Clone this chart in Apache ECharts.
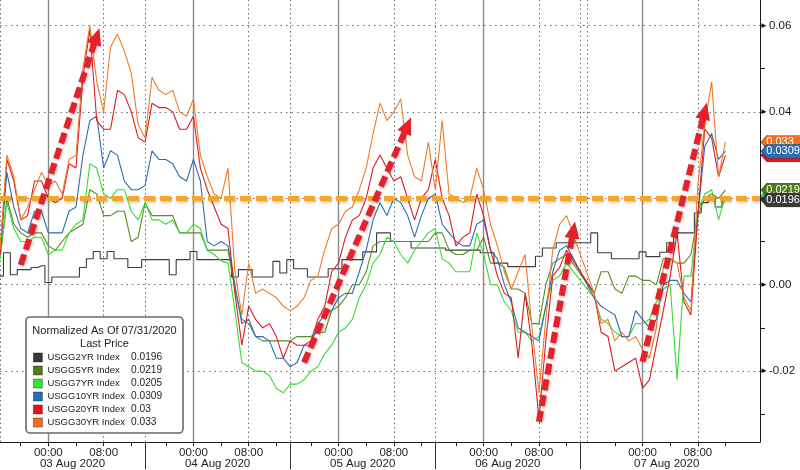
<!DOCTYPE html>
<html><head><meta charset="utf-8">
<script src="https://cdn.jsdelivr.net/npm/echarts@6/dist/echarts.min.js"></script>
<style>html,body{margin:0;padding:0;background:#fff}#c{width:800px;height:470px}</style>
</head><body><div id="c"></div>
<script>
// ---- time slots on the (gap-compressed) intraday axis ----
const dayNames = ['02 Aug 2020','03 Aug 2020','04 Aug 2020','05 Aug 2020','06 Aug 2020','07 Aug 2020'];
const dayHours = [
  [17,18,19,20,21,22,23],
  [0,1,2,3,4,5,6,7,8,9,10,11,12,13,14,18,19,20,21,22,23],
  [0,1,2,3,4,5,6,7,8,9,10,11,12,13,14,18,19,20,21,22,23],
  [0,1,2,3,4,5,6,7,8,9,10,11,12,13,14,18,19,20,21,22,23],
  [0,1,2,3,4,5,6,7,8,9,10,11,12,13,14,16,17,18,19,20,21,22,23],
  [0,1,2,3,4,5,6,7,8,9,10,11,12,13,14,15,16,17]
];
const tickHours = [0,4,8,12,20];
const labelHours = [0,8];
const dateLabelHour = 4;
const separators = ['02 Aug 2020 17:00','03 Aug 2020 14:00','04 Aug 2020 14:00','05 Aug 2020 14:00','06 Aug 2020 14:00','06 Aug 2020 16:00'];
const yTicks = [-0.03,-0.02,-0.01,0,0.01,0.02,0.03,0.04,0.05,0.06];
const yLabels = [-0.02,0,0.02,0.04,0.06];

// ---- series (yield change, in units of 0.001) ----
const names = ['USGG2YR Index','USGG5YR Index','USGG7YR Index','USGG10YR Index','USGG20YR Index','USGG30YR Index'];
const lastPrice = ['0.0196','0.0219','0.0205','0.0309','0.03','0.033'];
const usgg2 = [2,7.4,2.3,3.5,3.5,4,4.4,
  0.5,1.8,1.8,1.8,1.8,4,6,7.7,6,7.7,6,6,4,4,5.8, 5.8,5.8,5.8,2.3,5.8,5.8,
  7.7,5.8,5.8,5.8,5.8,5.8,1.8,3.5,3.5,1.8,1.8,1.8,5.4,2.7,5.8, 3.7,3.7,1.8,1.8,1.8,3.7,
  3.7,5.8,5.8,5.8,7.6,7.6,12,12,10,10,10,8.5,8.5,8.5,8.5, 8.5,8,8,8,8,8,
  7.4,7.4,5,5,4.2,4.2,4.2,4.2,6.6,8.5,8.5,9.7,9.7,9.7,9.7, 9.7,12,7.4,7.4,6,6,6,6,
  7.6,6.5,6.5,7.5,9.7,12,12,12,16.6,19,20,18,19.6];
const usgg5 = [6,20,14,12,11,12,12,
  9,8,10,12,13,14,22,21,16,16,17,17,10,11,19, 16,16,16,16,12,12,
  12,12,8,8,8,8,-1,-8,-9,-12,-13,-13,-13,-13,-13, -12,-12,-12,-11,-11,-6,
  -5,-3,0,0,3,9,10,10,10,10,10,10,10,10,12, 12,8,7,7,8,8,
  11,5,5,4,-1,-1,-2,-9,-9,0,5,6,7,null,null, null,-2,3,3,-1,-2,2,2,
  1,1,0,6,6,5,5,7,16,20,21,20,21.9];
const usgg7 = [6,19,13,10,10,11,11,
  7,8,8,12,14,15,28,27,21,20,22,22,17,15,19, 15,15,14,15,12,12,
  14,13,8,7,5.5,5,-6,-18,-19,-20,-20,-21,-24,-25,-23, -23,-22,-20,-19,-16,-14,
  -11,-10,-8,-3,0,5,7,11,10,7,5,8,10,12,13, 6,5,3,3,3,12,
  7,0,0,-4,-6,-11,-11,-13,-12,-5,1,2,5,null,null, null,-3,-8,-9,-11,-12,-12,-9,
  -9,-8,-4,-1,0,-22,2,2,17,21,22,15,20.5];
const usgg10 = [7,26,18,13,12,17,17,
  12,12,12,17,18,30,38,39,27,31,30,24,22,22,23, 31,29,29,28,25,24,
  29,24,10,9,10,9,0,-9,-8,-12,-12,-13,-17,-17,-19, -18,-14,-14,-9,-7,-6,
  -3,-2,-2,3,8,15,19,16,20,19,16,11,16,20,21, 14,12,10,9,9,14,
  15,8,6,0,-4,-10,-11,-12,-13,-5,3,8,9,null,null, null,-3,-5,-6,-7,-12,-12,-6,
  -8,-10,-8,0,1,1,-2,-4,16,32,35,29,30.9];
const usgg20 = [7,29,24,15,16,24,24,
  20,19,20,28,27,48,59,38,36,36,45,44,40,34,33, 42,41,41,40,36,36,
  39,27,22,18,14,13,-2,-14,-5,-8,-10,-9,-12,-17,-13, -14,-14,-13,-8,-5,3,
  5,11,15,16,20,27,30,27,24,25,20,15,20,22,29, 20,16,9,11,12,21,
  16,8,2,-2,-3,-17,-2,-14,-31,-13,2,4,8,null,null, null,-2,-11,-12,-20,-19,-18,-17,
  -24,-22,-14,-6,2,12,-4,-7,16,36,34,25,30];
const usgg30 = [8,30,25,15,18,22,26,
  23,24,21,29,30,50,60,47,40,55,58,54,49,37,34, 48,45,44,45,40,39,
  43,30,25,21,20,27,3,-7,5,-2,-1,-2,-3,-5,-6, -5,-3,1,2,8,13,
  14,17,18,22,27,35,42,38,40,43,30,25,24,33,22, 38,21,20,19,20,27,
  22,14,9,3,-1,3,7,-10,-25,-8,8,14,16,null,null, null,-2,-9,-8,-13,-11,-13,-12,
  -15,-17,-10,4,6,5,-3,-6,23,37,47,25,33];
const seriesValues = [usgg2, usgg5, usgg7, usgg10, usgg20, usgg30];
const unit = 0.001;

// ---- annotations ----
const refLevel = 0.0196;
const arrows = [
  ['02 Aug 2020 20:00', 0.0046, '03 Aug 2020 07:00', 0.0575],
  ['04 Aug 2020 19:00', -0.0180, '05 Aug 2020 10:00', 0.0369],
  ['06 Aug 2020 08:00', -0.0317, '06 Aug 2020 13:00', 0.0127],
  ['07 Aug 2020 00:00', -0.0178, '07 Aug 2020 09:00', 0.0402]
];

// ---- build ----
const categories = [], hourOf = [], dayOf = [];
dayNames.forEach((d, k) => dayHours[k].forEach(h => {
  categories.push(d + ' ' + String(h).padStart(2, '0') + ':00');
  hourOf.push(h); dayOf.push(d);
}));
const lastCat = categories[categories.length - 1];

const FONT = '"Liberation Sans", Arial, sans-serif';
const lineColors = ['#3d3d3d', '#5a8a20', '#34dc34', '#2d6eb0', '#e01a22', '#ef7b27'];
const legendColors = ['#3a3a3a', '#4f7d1c', '#2ee82e', '#2a6fb5', '#e8141a', '#f26f21'];
const tagZ = [14, 13, 12, 14, 13, 12];

const series = names.map((n, k) => ({
  name: n, type: 'line', data: seriesValues[k].map(v => v == null ? null : +(v * unit).toFixed(5)),
  showSymbol: false, symbol: 'none', connectNulls: true, silent: true, z: 2,
  step: k === 0 ? 'middle' : false,
  color: legendColors[k],
  lineStyle: { color: lineColors[k], width: 1.1 },
  markPoint: {
    z: tagZ[k], silent: true,
    symbol: 'path://M0,7 L6,0 L46,0 L46,14 L6,14 Z', symbolSize: [46, 14], symbolOffset: [24, 0],
    itemStyle: { color: legendColors[k], borderColor: 'rgba(0,0,0,0.35)', borderWidth: 0.8 },
    label: { show: true, position: 'insideLeft', distance: 6, color: '#fff', fontSize: 11, fontFamily: FONT, formatter: () => lastPrice[k] },
    data: [{ coord: [lastCat, parseFloat(lastPrice[k])] }]
  }
}));

const gridLines = [];
categories.forEach((c, i) => {
  if (hourOf[i] === 0) gridLines.push({ xAxis: c, lineStyle: { type: 'solid', color: '#8a8a8a', width: 1.4 } });
  else if (hourOf[i] === 8 || separators.includes(c)) gridLines.push({ xAxis: c, lineStyle: { type: [1.5, 3], color: '#6e6e6e', width: 1 } });
});
yLabels.forEach(v => gridLines.push({ yAxis: v, lineStyle: { type: [1.5, 4], color: '#6e6e6e', width: 1 } }));

series.unshift({
  name: 'grid', type: 'line', data: [], silent: true,
  markLine: { z: 1, silent: true, symbol: ['none', 'none'], label: { show: false }, animation: false, data: gridLines }
});

const annot = [{ yAxis: refLevel, lineStyle: { type: [11, 5], color: '#eea82f', width: 5, shadowColor: 'rgba(0,0,0,0.25)', shadowBlur: 3, shadowOffsetY: 1.5 } }];
arrows.forEach(a => annot.push([
  { coord: [a[0], a[1]], symbol: 'none' },
  { coord: [a[2], a[3]], symbol: 'triangle', symbolSize: [15, 17] }
]));
series.push({
  name: 'annot', type: 'line', data: [], silent: true,
  markLine: {
    z: 20, silent: true, symbol: ['none', 'none'], label: { show: false }, animation: false,
    lineStyle: { type: [11, 5], color: '#e3222b', width: 6, shadowColor: 'rgba(0,0,0,0.3)', shadowBlur: 3, shadowOffsetX: 1, shadowOffsetY: 1 },
    itemStyle: { color: '#e3222b' },
    data: annot
  }
});

// legend box layout
const box = { x: 26, y: 317, w: 157, h: 116 };
const rowTop = 351, rowH = 13, valueX = 131;
const graphic = [
  { type: 'rect', z: 3, silent: true, shape: { x: box.x, y: box.y, width: box.w, height: box.h, r: 4 }, style: { fill: '#fff', stroke: '#6a6a6a', lineWidth: 1.6 } },
  { type: 'text', x: box.x + box.w / 2, y: 331, z: 100, silent: true, style: { text: 'Normalized As Of 07/31/2020', align: 'center', verticalAlign: 'middle', font: '11px ' + FONT, fill: '#222' } },
  { type: 'text', x: box.x + box.w / 2, y: 344, z: 100, silent: true, style: { text: 'Last Price', align: 'center', verticalAlign: 'middle', font: '11px ' + FONT, fill: '#222' } }
];
lastPrice.forEach((p, k) => graphic.push({ type: 'text', x: valueX, y: rowTop + rowH * k + rowH / 2, z: 100, silent: true, style: { text: p, align: 'left', verticalAlign: 'middle', font: '10.2px ' + FONT, fill: '#222' } }));

const chart = echarts.init(document.getElementById('c'), null, { renderer: 'canvas' });
chart.setOption({
  animation: false,
  backgroundColor: '#ffffff',
  textStyle: { fontFamily: FONT },
  grid: { left: 0, right: 40, top: 0, bottom: 27, containLabel: false },
  xAxis: [
    {
      type: 'category', data: categories, boundaryGap: false,
      axisLine: { show: true, onZero: false, lineStyle: { color: '#1a1a1a', width: 1 } },
      axisTick: { show: true, length: 4, interval: (i) => tickHours.includes(hourOf[i]), lineStyle: { color: '#1a1a1a' } },
      axisLabel: { show: true, margin: 5, interval: (i) => labelHours.includes(hourOf[i]), formatter: (v) => v.slice(-5), color: '#222', fontSize: 11.5, fontFamily: FONT },
      splitLine: { show: false }
    },
    {
      type: 'category', data: categories, boundaryGap: false, position: 'bottom',
      axisLine: { show: false, onZero: false },
      axisTick: { show: true, length: 27, interval: (i) => separators.includes(categories[i]) && i > 0 && categories[i] !== '06 Aug 2020 16:00', lineStyle: { color: '#333' } },
      axisLabel: { show: true, margin: 16, interval: (i) => hourOf[i] === dateLabelHour, formatter: (v) => v.slice(0, 11), color: '#222', fontSize: 11.5, fontFamily: FONT, padding: [0, 7, 0, 0] },
      splitLine: { show: false }
    }
  ],
  yAxis: {
    type: 'value', position: 'right', min: -0.0364, max: 0.0659,
    axisLine: { show: true, lineStyle: { color: '#1a1a1a', width: 1 } },
    axisTick: { show: true, customValues: yTicks, length: 5, lineStyle: { color: '#1a1a1a' } },
    axisLabel: {
      show: true, customValues: yLabels, margin: 0,
      formatter: (v) => '{t|►}{n|' + v.toFixed(2) + '}',
      rich: { t: { fontSize: 8, color: '#111', padding: [0, 1, 0, 0] }, n: { fontSize: 11.5, color: '#1a1a1a', fontFamily: FONT } }
    },
    splitLine: { show: false }
  },
  legend: {
    data: names, orient: 'vertical', left: box.x, top: box.y, selectedMode: false, z: 4,
    icon: 'rect', itemWidth: 9, itemHeight: 9, itemGap: 0,
    padding: [rowTop - box.y, 0, 0, 7],
    itemStyle: { borderColor: 'rgba(0,0,0,0.45)', borderWidth: 0.8 },
    textStyle: { fontSize: 9.5, lineHeight: rowH, color: '#222', fontFamily: FONT }
  },
  graphic: graphic,
  series: series
});
</script></body></html>
